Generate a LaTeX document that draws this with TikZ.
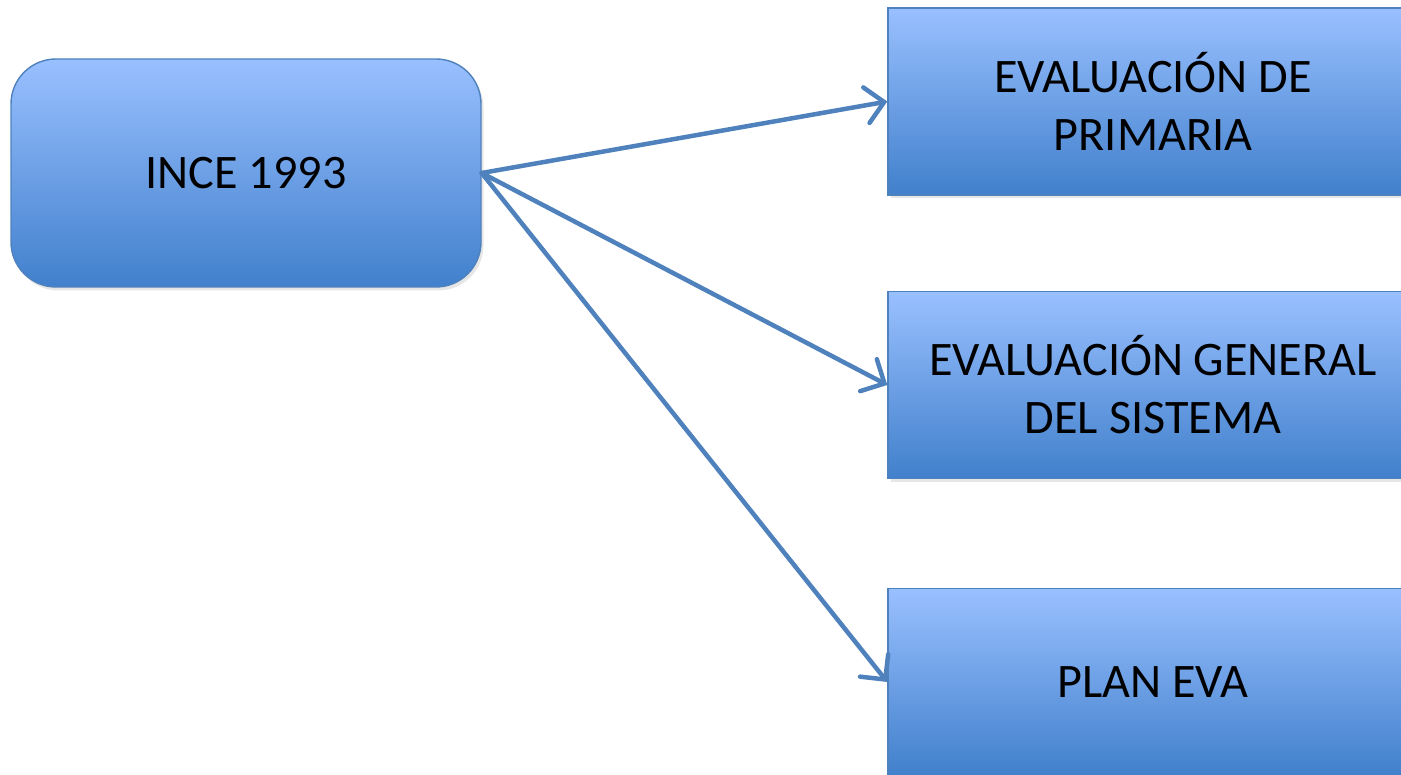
\documentclass[tikz,border=0pt]{standalone}
\usepackage{fontspec}
\setmainfont{Carlito}
\usetikzlibrary{arrows.meta,shadows}
\definecolor{boxtop}{RGB}{153,192,255}
\definecolor{boxbot}{RGB}{65,128,204}
\definecolor{boxline}{RGB}{79,129,189}
\begin{document}
\begin{tikzpicture}[
		bluebox/.style={draw=boxline, line width=0.8pt, top color=boxtop, bottom color=boxbot, font=\fontsize{27.4}{33}\selectfont, align=center, inner sep=0pt, drop shadow={opacity=0.2, shadow xshift=0.05cm, shadow yshift=-0.07cm}},
		link/.style={-{Straight Barb[length=0.36cm, width=0.72cm, line cap=round]}, boxline, line width=0.09cm, line cap=round}]
		\useasboundingbox (0,0) rectangle (28.02,15.5);
		
		\node[bluebox, rounded corners=0.9cm, minimum width=9.4cm, minimum height=4.56cm] (ince) at (4.92,12.04) {INCE 1993};
		
		\node[bluebox, minimum width=10.6cm, minimum height=3.74cm] (primaria) at (23.06,13.47) {EVALUACIÓN DE\\PRIMARIA};
		\node[bluebox, minimum width=10.6cm, minimum height=3.74cm] (general) at (23.06,7.8) {EVALUACIÓN GENERAL\\DEL SISTEMA};
		\node[bluebox, minimum width=10.6cm, minimum height=3.74cm] (plan) at (23.06,1.86) {PLAN EVA};
		
		\draw[link] (ince.east) -- (primaria.west);
		\draw[link] (ince.east) -- (general.west);
		\draw[link] (ince.east) -- (plan.west);
		
	\end{tikzpicture}
\end{document}
